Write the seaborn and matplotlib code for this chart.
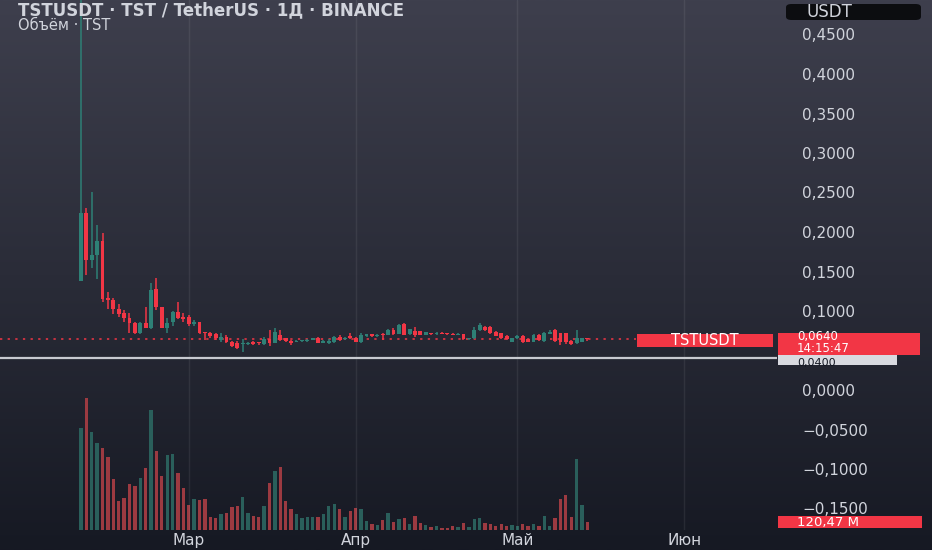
import numpy as np
import pandas as pd
import matplotlib
matplotlib.use("Agg")
import matplotlib.pyplot as plt
import matplotlib.dates as mdates
import matplotlib.transforms as mtrans
from matplotlib.patches import Rectangle, FancyBboxPatch
from matplotlib.ticker import FixedLocator, FuncFormatter
import seaborn as sns

# ---------------- data ----------------
start_date = "2025-02-09"
opens = [.138, .224, .165, .171, .188, .116, .114, .103, .097, .0915,
         .085, .0725, .0845, .078, .1275, .1047, .079, .0865, .099, .092,
         .0925, .083, .0857, .0725, .0717, .071, .063, .0667, .061, .0598,
         .058, .0582, .0612, .0605, .0582, .0641, .0599, .0700, .0654, .0624,
         .0612, .0615, .0620, .0633, .0662, .0599, .0600, .0605, .0675, .0641,
         .0684, .0662, .0612, .0684, .0705, .0684, .0705, .0696, .0759, .0710,
         .0835, .0705, .0750, .0745, .0696, .0717, .0705, .0722, .0717, .0710,
         .0700, .0705, .0641, .0654, .0759, .0802, .0802, .0738, .0717, .0684,
         .0612, .0654, .0684, .0641, .0612, .0696, .0624, .0712, .0759, .0717,
         .0717, .0624, .0591, .0612, .0660]
highs = [.52, .231, .251, .209, .199, .124, .116, .109, .101, .097,
         .0865, .0865, .105, .136, .1414, .105, .091, .1004, .1118, .097,
         .095, .0885, .0865, .0735, .074, .0725, .0725, .0695, .062, .0625,
         .064, .0612, .0624, .0612, .0675, .0759, .0781, .0759, .0662, .0630,
         .0630, .0633, .0645, .0662, .0668, .0633, .0640, .0684, .0696, .0668,
         .0724, .0668, .0717, .0710, .0710, .0705, .0717, .0768, .0781, .0830,
         .0844, .0775, .0802, .0750, .0738, .0722, .0730, .0728, .0722, .0717,
         .0717, .0710, .0662, .0802, .0844, .0815, .0810, .0745, .0725, .0690,
         .0662, .0696, .0696, .0650, .0705, .0705, .0738, .0759, .0768, .0722,
         .0722, .0630, .0759, .0660, .0662]
lows = [.138, .146, .155, .140, .112, .102, .096, .093, .086, .0725,
        .0705, .0705, .078, .0768, .101, .0785, .0717, .081, .0895, .0865,
        .081, .0808, .0705, .063, .066, .063, .061, .059, .055, .0525,
        .0485, .0570, .0570, .0570, .0570, .0555, .0591, .0624, .0612, .0570,
        .0605, .0608, .0612, .0630, .0595, .0590, .0588, .0595, .0624, .0635,
        .0641, .0605, .0591, .0675, .0675, .0675, .0633, .0690, .0700, .0705,
        .0690, .0700, .0675, .0690, .0690, .0700, .0700, .0705, .0700, .0696,
        .0696, .0635, .0635, .0641, .0745, .0750, .0710, .0680, .0641, .0635,
        .0605, .0650, .0591, .0605, .0605, .0624, .0612, .0705, .0612, .0570,
        .0582, .0575, .0582, .0605, .0624]
closes = [.224, .165, .171, .188, .115, .114, .102, .096, .091, .085,
          .0717, .085, .078, .1266, .1047, .079, .085, .099, .0915, .0905,
          .083, .0865, .0717, .072, .068, .0654, .0675, .0604, .056, .0535,
          .060, .0599, .0582, .0595, .0641, .0591, .0738, .0633, .0624, .0599,
          .0620, .0622, .0635, .0654, .0599, .0624, .0624, .0675, .0633, .0662,
          .0654, .0612, .0696, .0705, .0684, .0696, .0690, .0759, .0710, .0823,
          .0696, .0768, .0696, .0696, .0730, .0705, .0725, .0710, .0705, .0700,
          .0710, .0641, .0654, .0759, .0823, .0759, .0717, .0684, .0654, .0641,
          .0654, .0684, .0612, .0612, .0696, .0633, .0724, .0738, .0624, .0612,
          .0612, .0582, .0654, .0654, .0640]
volumes_m = [1476, 1911, 1426, 1258, 1185, 1064, 736, 421, 460, 663,
             638, 750, 895, 1741, 1151, 784, 1088, 1103, 831, 614,
             363, 450, 435, 450, 193, 178, 232, 251, 329, 353,
             474, 242, 203, 193, 353, 678, 860, 910, 425, 305,
             232, 170, 184, 184, 193, 232, 353, 373, 300, 193,
             276, 315, 300, 131, 87, 73, 145, 242, 120, 155,
             170, 87, 203, 97, 73, 39, 58, 33, 33, 58,
             39, 97, 48, 155, 170, 106, 87, 58, 87, 58,
             73, 58, 87, 58, 83, 62, 208, 62, 170, 446,
             508, 193, 1026, 363, 120.47]
month_ticks = ["2025-03-01", "2025-04-01", "2025-05-01", "2025-06-01"]
month_labels = ["Мар", "Апр", "Май", "Июн"]
# 0,0500 is hidden by the last-price label in the reference
price_ticks = [-0.15, -0.10, -0.05, 0.0, 0.10, 0.15, 0.20, 0.25, 0.30, 0.35, 0.40, 0.45]
last_price = 0.0640
last_price_text = "0,0640"
countdown_text = "14:15:47"
hline_price = 0.0400
hline_text = "0,0400"
last_volume_text = "120,47 M"
title_text = "TSTUSDT · TST / TetherUS · 1Д · BINANCE"
subtitle_text = "Объём · TST"
symbol_text = "TSTUSDT"
currency_text = "USDT"

# ---------------- style ----------------
UP = "#2e8076"
DOWN = "#f23645"
VOL_UP = "#2a5f5b"
VOL_DOWN = "#9c3a41"
TXT = "#d1d4dc"

sns.set_theme(style="dark")
plt.rcParams["font.family"] = ["DejaVu Sans"]

W, H = 932, 550
fig = plt.figure(figsize=(W / 100, H / 100), dpi=100)

# gradient background
bg = fig.add_axes([0, 0, 1, 1], zorder=-10)
top = np.array([62, 63, 77]) / 255
bot = np.array([22, 25, 35]) / 255
t = np.linspace(0, 1, 256)[:, None]
grad = (top[None, :] * (1 - t) + bot[None, :] * t)[:, None, :]
bg.imshow(grad, aspect="auto", extent=[0, 1, 0, 1])
bg.axis("off")

plot_right = 777
plot_bottom = 530
ax = fig.add_axes([0, (H - plot_bottom) / H, plot_right / W, plot_bottom / H])
ax2 = ax.twinx()
ax.set_zorder(2)
ax.patch.set_visible(False)
ax2.patch.set_visible(False)

dates = pd.date_range(start_date, periods=len(opens), freq="D")
x = mdates.date2num(dates)
o = np.array(opens); c = np.array(closes); hi = np.array(highs); lo = np.array(lows)
up = c >= o
df = pd.DataFrame({"x": x, "vol": volumes_m, "dir": np.where(up, "up", "down")})

# volume (seaborn)
sns.barplot(data=df, x="x", y="vol", hue="dir", palette={"up": VOL_UP, "down": VOL_DOWN},
            native_scale=True, width=0.62, dodge=False, errorbar=None, saturation=1,
            legend=False, ax=ax2, linewidth=0)
vmax = max(volumes_m)
vol_top = vmax * 530 / 131.7
ax2.set_ylim(0, vol_top)
ax2.set_yticks([]); ax2.set_ylabel(""); ax2.set_xlabel("")
ax2.grid(False)
for s in ax2.spines.values():
    s.set_visible(False)

# candles
cols = np.where(up, UP, DOWN)
ax.vlines(x, lo, hi, colors=cols, linewidth=1.1, zorder=3)
body_bottom = np.minimum(o, c)
body_h = np.maximum(np.abs(c - o), 0.0012)
ax.bar(x, body_h, bottom=body_bottom, width=0.72, color=cols, linewidth=0, zorder=4)

ppx = 790.0  # px per price unit
ax.set_ylim((390 - plot_bottom) / ppx, 390 / ppx)
x0 = x[0]
px_day = 5.387
ax.set_xlim(x0 - 81 / px_day, x0 + (plot_right - 81) / px_day)

# axes / ticks
ax.yaxis.tick_right()
ax.yaxis.set_major_locator(FixedLocator(price_ticks))
ax.yaxis.set_major_formatter(FuncFormatter(lambda v, p: f"{v:.4f}".replace(".", ",").replace("-", "−")))
ax.tick_params(axis="y", length=0, pad=18, labelsize=11, labelcolor=TXT)
ax.set_xticks(mdates.date2num(pd.to_datetime(month_ticks)))
ax.set_xticklabels(month_labels)
ax.tick_params(axis="x", length=0, pad=2, labelsize=11, labelcolor=TXT)
ax.grid(axis="x", color="white", alpha=0.07, linewidth=1)
ax.grid(axis="y", visible=False)
for s in ax.spines.values():
    s.set_visible(False)

# horizontal lines
ax.axhline(hline_price, color="#c8cad1", linewidth=1.6, zorder=2)
ax.axhline(last_price, xmin=0, xmax=636 / plot_right, color=DOWN, linewidth=1.1,
           linestyle=(0, (1.5, 3.5)), zorder=2)

blend = mtrans.blended_transform_factory(ax.transAxes, ax.transData)
def fx(px):
    return px / plot_right

# TSTUSDT label on chart
lab_h = 13 / ppx
ax.add_patch(Rectangle((fx(637), last_price - 0.0013 - lab_h / 2), fx(773) - fx(637), lab_h,
                       transform=blend, color=DOWN, zorder=6, clip_on=False, lw=0))
ax.text(fx(705), last_price - 0.0013, symbol_text, transform=blend, ha="center", va="center",
        color="white", fontsize=10.5, zorder=7, clip_on=False)

# 0,0400 label (partly under the price label)
ax.add_patch(Rectangle((fx(778), hline_price - 7 / ppx), fx(897) - fx(778), 13 / ppx,
                       transform=blend, color="#d9dae0", zorder=6, clip_on=False, lw=0))
ax.text(fx(797), hline_price - 4.5 / ppx, hline_text, transform=blend, ha="left", va="center",
        color="#131722", fontsize=8, zorder=7, clip_on=False)

# last price label (price + countdown, two lines)
ax.add_patch(Rectangle((fx(778), last_price - 16 / ppx), fx(920) - fx(778), 22 / ppx,
                       transform=blend, color=DOWN, zorder=8, clip_on=False, lw=0))
ax.text(fx(797), last_price - 3.5 / ppx, last_price_text + "\n" + countdown_text,
        transform=blend, ha="left", va="center", linespacing=0.9,
        color="white", fontsize=8.5, zorder=9, clip_on=False)

# last volume label
vblend = mtrans.blended_transform_factory(ax2.transAxes, ax2.transData)
vpx = vol_top / 530
ax2.add_patch(Rectangle((fx(778), volumes_m[-1] - 6 * vpx), fx(922) - fx(778), 12 * vpx,
                        transform=vblend, color=DOWN, zorder=8, clip_on=False, lw=0))
ax2.text(fx(797), volumes_m[-1] - 0.5 * vpx, last_volume_text, transform=vblend, ha="left",
         va="center", color="white", fontsize=9.5, zorder=9, clip_on=False)

# currency box top-right
fig.patches.append(FancyBboxPatch((786 / W, 1 - 20 / H), 135 / W, 16 / H,
                                  boxstyle="round,pad=0,rounding_size=0.006",
                                  transform=fig.transFigure, fc="#0c0d10", ec="none"))
fig.text(806 / W, 1 - 12 / H, currency_text, ha="left", va="center", color=TXT, fontsize=12)

# header
fig.text(18 / W, 1 - 10 / H, title_text, ha="left", va="center", color=TXT,
         fontsize=12, fontweight="bold")
fig.text(18 / W, 1 - 26 / H, subtitle_text, ha="left", va="center", color=TXT, fontsize=10.5)

fig.savefig("out.png", dpi=100)
